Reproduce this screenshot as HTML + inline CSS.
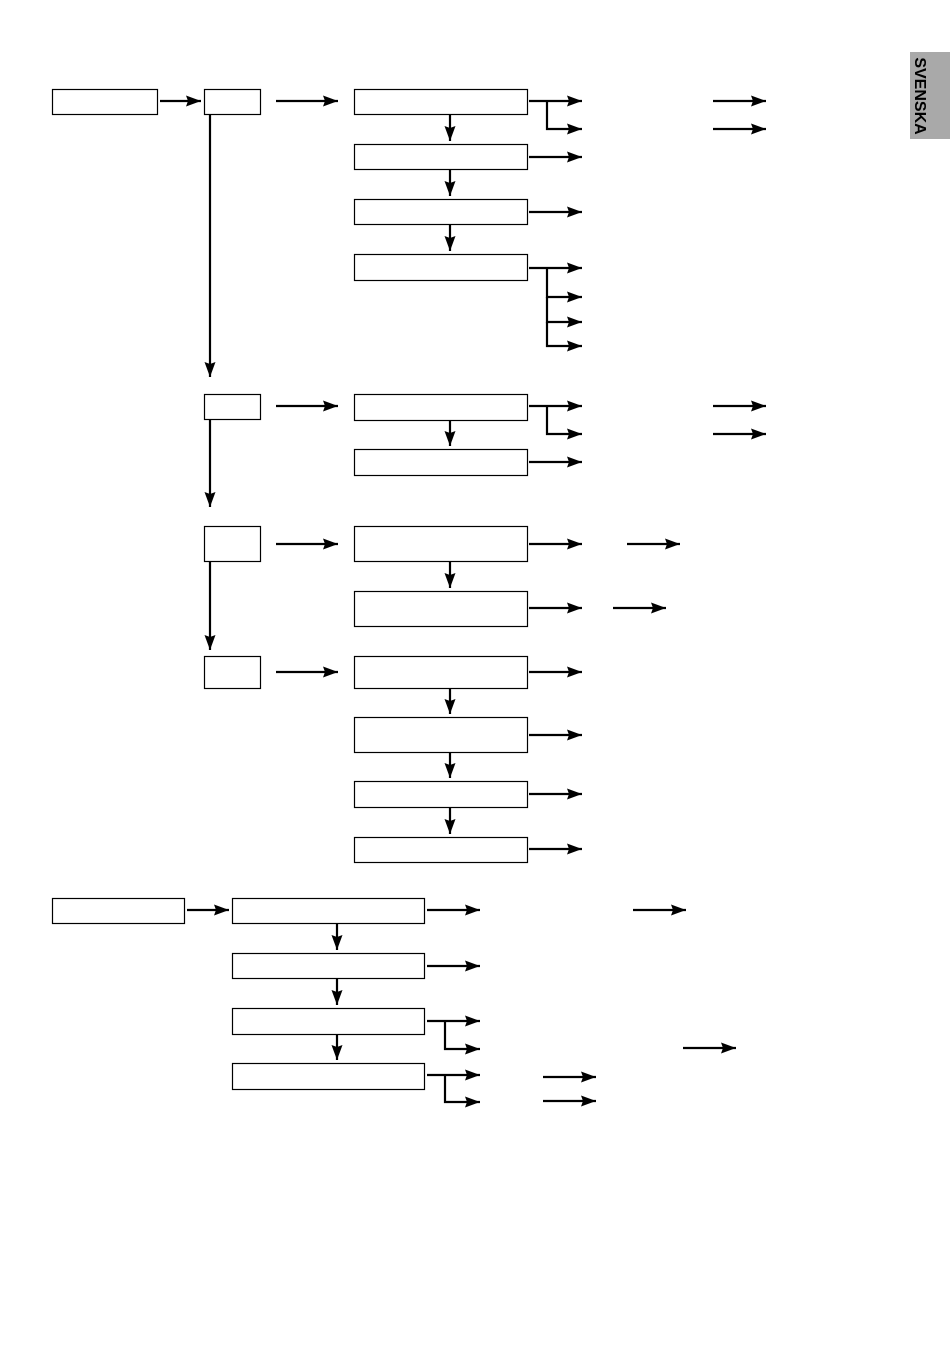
<!DOCTYPE html>
<html><head><meta charset="utf-8"><style>
html,body{margin:0;padding:0;background:#fff;width:950px;height:1348px;overflow:hidden}
svg{display:block}
</style></head><body>
<svg width="950" height="1348" xmlns="http://www.w3.org/2000/svg">
<defs>
<marker id="a" markerUnits="userSpaceOnUse" markerWidth="18" markerHeight="14" refX="15" refY="7" orient="auto" overflow="visible">
<path d="M0,1.5 L15,7 L0,12.5 L2,7 Z" fill="#000"/>
</marker>
</defs>
<rect x="910" y="52" width="40" height="87" fill="#a9a9a9"/>
<text transform="translate(915,96) rotate(90)" text-anchor="middle" font-family="Liberation Sans, sans-serif" font-weight="bold" font-size="16" fill="#000">SVENSKA</text>
<g fill="none" stroke="#000" stroke-width="1.2">
<rect x="52.5" y="89.5" width="105" height="25"/>
<rect x="204.5" y="89.5" width="56" height="25"/>
<rect x="354.5" y="89.5" width="173" height="25"/>
<rect x="354.5" y="144.5" width="173" height="25"/>
<rect x="354.5" y="199.5" width="173" height="25"/>
<rect x="354.5" y="254.5" width="173" height="26"/>
<rect x="204.5" y="394.5" width="56" height="25"/>
<rect x="354.5" y="394.5" width="173" height="26"/>
<rect x="354.5" y="449.5" width="173" height="26"/>
<rect x="204.5" y="526.5" width="56" height="35"/>
<rect x="354.5" y="526.5" width="173" height="35"/>
<rect x="354.5" y="591.5" width="173" height="35"/>
<rect x="204.5" y="656.5" width="56" height="32"/>
<rect x="354.5" y="656.5" width="173" height="32"/>
<rect x="354.5" y="717.5" width="173" height="35"/>
<rect x="354.5" y="781.5" width="173" height="26"/>
<rect x="354.5" y="837.5" width="173" height="25"/>
<rect x="52.5" y="898.5" width="132" height="25"/>
<rect x="232.5" y="898.5" width="192" height="25"/>
<rect x="232.5" y="953.5" width="192" height="25"/>
<rect x="232.5" y="1008.5" width="192" height="26"/>
<rect x="232.5" y="1063.5" width="192" height="26"/>
</g>
<g fill="none" stroke="#000" stroke-width="2.2" marker-end="url(#a)">
<path d="M160,101H201"/><path d="M276,101H338"/><path d="M210,114V377"/>
<path d="M529,101H582"/><path d="M547,101V129H582"/>
<path d="M713,101H766"/><path d="M713,129H766"/>
<path d="M450,114V141"/><path d="M450,169V196"/><path d="M450,224V251"/>
<path d="M529,157H582"/><path d="M529,212H582"/><path d="M529,268H582"/>
<path d="M547,268V297H582"/><path d="M547,297V322H582"/><path d="M547,322V346H582"/>
<path d="M276,406H338"/><path d="M529,406H582"/><path d="M547,406V434H582"/>
<path d="M713,406H766"/><path d="M713,434H766"/>
<path d="M450,420V446"/><path d="M529,462H582"/><path d="M210,419V507"/>
<path d="M276,544H338"/><path d="M529,544H582"/><path d="M627,544H680"/>
<path d="M450,561V588"/><path d="M529,608H582"/><path d="M613,608H666"/>
<path d="M210,561V650"/>
<path d="M276,672H338"/><path d="M529,672H582"/><path d="M529,735H582"/>
<path d="M529,794H582"/><path d="M529,849H582"/>
<path d="M450,688V714"/><path d="M450,752V778"/><path d="M450,807V834"/>
<path d="M187,910H229"/><path d="M427,910H480"/><path d="M633,910H686"/>
<path d="M337,923V950"/><path d="M337,978V1005"/><path d="M337,1034V1060"/>
<path d="M427,966H480"/><path d="M427,1021H480"/><path d="M445,1021V1049H480"/>
<path d="M683,1048H736"/>
<path d="M427,1075H480"/><path d="M445,1075V1102H480"/>
<path d="M543,1077H596"/><path d="M543,1101H596"/>
</g>
</svg>
</body></html>
